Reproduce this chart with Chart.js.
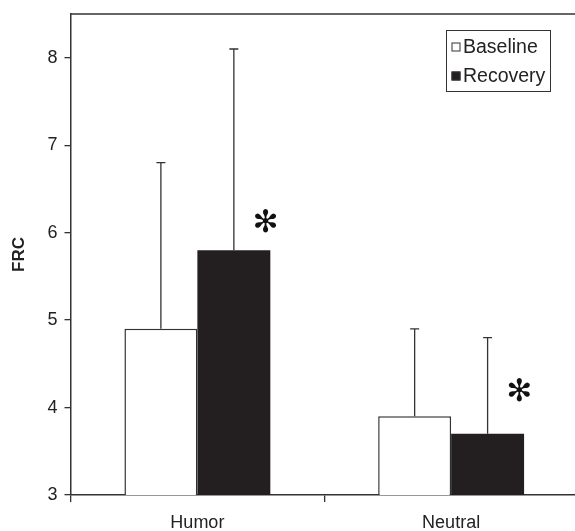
<!DOCTYPE html>
<html>
<head>
<meta charset="utf-8">
<script src="https://cdn.jsdelivr.net/npm/chart.js@4/dist/chart.umd.min.js"></script>
<style>
  html, body { margin: 0; padding: 0; background: #fff; overflow: hidden; }
  #wrap { position: relative; width: 578px; height: 531px; }
</style>
</head>
<body>
<div id="wrap"><canvas id="frcChart" width="578" height="531"></canvas></div>
<script>
const categories = ['Humor', 'Neutral'];
const baselineValues = [4.9, 3.9];
const recoveryValues = [5.8, 3.7];
const baselineErrTop = [6.8, 4.9];
const recoveryErrTop = [8.1, 4.8];
// asterisk marks (significance) above the recovery bars
const starValues = [6.1, 4.17];
const yTicks = [3, 4, 5, 6, 7, 8];

const ink = '#333333';

const errorBars = {
    id: 'errorBars',
    afterDatasetsDraw(chart) {
        const ctx = chart.ctx;
        const y = chart.scales.y;
        const tops = [baselineErrTop, recoveryErrTop];
        ctx.save();
        ctx.strokeStyle = ink;
        ctx.lineWidth = 1.3;
        tops.forEach((arr, di) => {
            chart.getDatasetMeta(di).data.forEach((bar, i) => {
                const yt = y.getPixelForValue(arr[i]);
                ctx.beginPath();
                ctx.moveTo(bar.x, bar.y);
                ctx.lineTo(bar.x, yt);
                ctx.moveTo(bar.x - 4.5, yt);
                ctx.lineTo(bar.x + 4.5, yt);
                ctx.stroke();
            });
        });
        // significance stars
        ctx.fillStyle = '#111';
        ctx.font = '31px "DejaVu Sans"';
        ctx.textAlign = 'center';
        ctx.textBaseline = 'middle';
        chart.getDatasetMeta(1).data.forEach((bar, i) => {
            ctx.fillText('\u273B', bar.x + 32, y.getPixelForValue(starValues[i]));
        });
        ctx.restore();
    }
};

const frame = {
    id: 'frame',
    afterDraw(chart) {
        const ctx = chart.ctx;
        const a = chart.chartArea;
        ctx.save();
        ctx.strokeStyle = ink;
        ctx.lineWidth = 1.5;
        ctx.beginPath();
        ctx.moveTo(a.left, a.top);
        ctx.lineTo(chart.width, a.top);
        ctx.stroke();

        // legend box
        const bx = 446.5, by = 30.5, bw = 104, bh = 61;
        ctx.lineWidth = 1;
        ctx.strokeRect(bx, by, bw, bh);
        ctx.font = '19.5px "Liberation Sans", Arial, sans-serif';
        ctx.textBaseline = 'middle';
        ctx.textAlign = 'left';
        chart.data.datasets.forEach((ds, i) => {
            const cy = by + 16.5 + i * 29;
            ctx.fillStyle = ds.backgroundColor;
            ctx.fillRect(bx + 5, cy - 4.5, 9, 9);
            ctx.strokeStyle = ink;
            ctx.strokeRect(bx + 5.5, cy - 4, 8, 8);
            ctx.fillStyle = '#222';
            ctx.fillText(ds.label, bx + 16.5, cy + 1);
        });
        ctx.restore();
    }
};

new Chart(document.getElementById('frcChart').getContext('2d'), {
    type: 'bar',
    data: {
        labels: categories,
        datasets: [
            {
                label: 'Baseline',
                data: baselineValues,
                backgroundColor: '#ffffff',
                borderColor: ink,
                borderWidth: 1.5
            },
            {
                label: 'Recovery',
                data: recoveryValues,
                backgroundColor: '#231f20',
                borderColor: '#231f20',
                borderWidth: 0
            }
        ]
    },
    options: {
        responsive: false,
        animation: false,
        layout: { padding: { top: 14, right: 0, left: 0, bottom: 0 } },
        categoryPercentage: 0.575,
        barPercentage: 1.0,
        plugins: {
            legend: { display: false },
            tooltip: { enabled: false }
        },
        scales: {
            x: {
                grid: {
                    display: true,
                    offset: true,
                    drawOnChartArea: false,
                    tickLength: 7,
                    color: ink,
                    lineWidth: 1.3
                },
                border: { display: true, color: ink, width: 1.5 },
                ticks: {
                    color: '#222',
                    padding: 10,
                    font: { family: '"Liberation Sans", Arial, sans-serif', size: 18 }
                },
                afterFit(axis) { axis.height = 36; }
            },
            y: {
                min: 3,
                max: 8.5,
                afterBuildTicks(axis) {
                    axis.ticks = yTicks.map(v => ({ value: v }));
                },
                grid: {
                    display: true,
                    drawOnChartArea: false,
                    tickLength: 6,
                    color: ink,
                    lineWidth: 1.3
                },
                border: { display: true, color: ink, width: 1.5 },
                ticks: {
                    color: '#222',
                    padding: 7,
                    font: { family: '"Liberation Sans", Arial, sans-serif', size: 18 }
                },
                title: {
                    display: true,
                    text: 'FRC',
                    color: '#222',
                    padding: { top: 9, bottom: 0 },
                    font: { family: '"Liberation Sans", Arial, sans-serif', size: 17, weight: 'bold' }
                },
                afterFit(axis) {
                    axis.width = 70.5;
                    axis.paddingTop = 0;
                    axis.paddingBottom = 0;
                }
            }
        }
    },
    plugins: [errorBars, frame]
});
</script>
</body>
</html>
